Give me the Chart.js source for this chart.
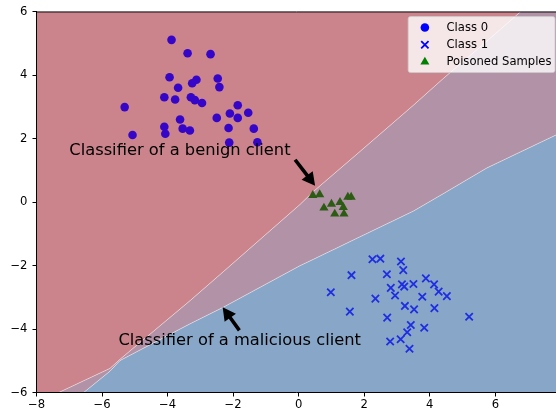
<!DOCTYPE html>
<html>
<head>
<meta charset="utf-8">
<script src="https://cdn.jsdelivr.net/npm/chart.js@4/dist/chart.umd.min.js"></script>
<style>
  html, body { margin: 0; padding: 0; background: #fff; overflow: hidden; }
  #chart { display: block; }
</style>
</head>
<body>
<canvas id="chart" width="556" height="412" style="width:556px;height:412px"></canvas>
<script>
// ---- data ----
const class0X = [-3.88, -3.39, -2.69, -3.94, -2.47, -3.12, -3.25, -2.42, -3.68, -4.10,
                 -3.77, -3.29, -3.17, -2.95, -5.31, -1.86, -2.10, -1.54, -1.86, -2.50,
                 -3.62, -4.10, -3.54, -3.32, -2.14, -1.37, -4.07, -5.07, -2.12, -1.26];
const class0Y = [5.12, 4.70, 4.67, 3.94, 3.90, 3.86, 3.75, 3.63, 3.61, 3.31,
                 3.24, 3.31, 3.22, 3.13, 3.00, 3.06, 2.80, 2.82, 2.66, 2.66,
                 2.61, 2.38, 2.32, 2.26, 2.34, 2.32, 2.16, 2.12, 1.88, 1.89];

const class1X = [2.25, 2.49, 3.12, 3.19, 1.61, 2.69, 3.88, 4.13, 3.50, 3.15,
                 3.22, 2.81, 4.27, 0.98, 2.94, 3.77, 4.52, 2.34, 3.24, 3.52,
                 4.14, 1.56, 2.70, 5.20, 3.42, 3.83, 3.31, 3.11, 2.79, 3.38];
const class1Y = [-1.80, -1.78, -1.87, -2.14, -2.30, -2.27, -2.40, -2.59, -2.58, -2.59,
                 -2.66, -2.70, -2.82, -2.84, -2.94, -2.98, -2.96, -3.04, -3.27, -3.38,
                 -3.34, -3.45, -3.64, -3.61, -3.87, -3.96, -4.10, -4.32, -4.39, -4.62];

const poisonedX = [0.43, 0.64, 0.77, 1.00, 1.26, 1.50, 1.60, 1.10, 1.36, 1.38];
const poisonedY = [0.22, 0.24, -0.18, -0.06, 0.00, 0.16, 0.16, -0.37, -0.16, -0.37];

// decision boundaries of the two classifiers, sampled at shared x positions
const boundaryX  = [-8, -7.32, -6.56, -5.76, -5.45, -3.31, -2.30, 0.04, 0.45, 1.87, 3.50, 4.41, 5.74, 6.75, 7.85];
const benignY    = [-6.33, -6.00, -5.63, -5.24, -4.95, -3.10, -2.19, -0.07, 0.34, 1.60, 3.06, 3.90, 5.08, 5.99, 6.99];
const maliciousY = [-7.38, -6.73, -6.00, -5.33, -4.99, -3.83, -3.31, -2.00, -1.80, -1.09, -0.28, 0.27, 1.08, 1.58, 2.12];

const xRange = [-8, 7.85];
const yRange = [-6, 6];
const xTicks = [-8, -6, -4, -2, 0, 2, 4, 6];
const yTicks = [-6, -4, -2, 0, 2, 4, 6];

const annotationText  = ['Classifier of a benign client', 'Classifier of a malicious client'];
const annotationTextX = [-7.0, -5.5];
const annotationTextY = [1.5, -4.5];
const arrowTailX = [-0.11, -1.81];
const arrowTailY = [1.34, -4.04];
const arrowTipX  = [0.50, -2.32];
const arrowTipY  = [0.52, -3.31];

// ---- styling ----
const FONT = 'DejaVu Sans';
const TICK_SIZE = 11.6;
const NOTE_SIZE = 16.3;
const RED = '#cb838c';
const PURPLE = '#b192a6';
const BLUE = '#88a7c8';
const EDGE = 'rgba(255,255,255,0.45)';

const pts = (xs, ys) => xs.map((x, i) => ({ x, y: ys[i] }));

const legendItems = [
  { text: 'Class 0', style: 'circle', color: '#0000ff' },
  { text: 'Class 1', style: 'crossRot', color: '#0000ff' },
  { text: 'Poisoned Samples', style: 'triangle', color: '#008000' }
];

const tickFmt = list => v => list.includes(v) ? String(v).replace('-', '\u2212') : '';

// frame, arrows, annotation texts and the in-plot legend
const overlayPlugin = {
  id: 'overlay',
  afterDatasetsDraw(chart) {
    const { ctx, chartArea: a, scales } = chart;
    const sx = scales.x, sy = scales.y;
    ctx.save();
    ctx.fillStyle = '#000';
    ctx.font = `${NOTE_SIZE}px "${FONT}"`;
    ctx.textAlign = 'left';
    ctx.textBaseline = 'alphabetic';
    annotationText.forEach((t, i) => {
      ctx.fillText(t, sx.getPixelForValue(annotationTextX[i]), sy.getPixelForValue(annotationTextY[i]));
      const x0 = sx.getPixelForValue(arrowTailX[i]), y0 = sy.getPixelForValue(arrowTailY[i]);
      const x1 = sx.getPixelForValue(arrowTipX[i]),  y1 = sy.getPixelForValue(arrowTipY[i]);
      const dx = x1 - x0, dy = y1 - y0, L = Math.hypot(dx, dy);
      const ux = dx / L, uy = dy / L, nx = -uy, ny = ux;
      const hl = 13, hw = 7, sw = 1.8;
      const bx = x1 - ux * hl, by = y1 - uy * hl;
      ctx.beginPath();
      ctx.moveTo(x0 + nx * sw, y0 + ny * sw);
      ctx.lineTo(bx + nx * sw, by + ny * sw);
      ctx.lineTo(bx + nx * hw, by + ny * hw);
      ctx.lineTo(x1, y1);
      ctx.lineTo(bx - nx * hw, by - ny * hw);
      ctx.lineTo(bx - nx * sw, by - ny * sw);
      ctx.lineTo(x0 - nx * sw, y0 - ny * sw);
      ctx.closePath();
      ctx.fill();
    });
    ctx.strokeStyle = '#000';
    ctx.lineWidth = 1;
    ctx.beginPath();
    ctx.moveTo(a.left, a.bottom);
    ctx.lineTo(a.left, a.top);
    ctx.lineTo(a.right + 1, a.top);
    ctx.moveTo(a.left, a.bottom);
    ctx.lineTo(a.right + 1, a.bottom);
    ctx.stroke();
    ctx.restore();
  },
  afterDraw(chart) {
    const { ctx, chartArea: a } = chart;
    const F = TICK_SIZE;
    ctx.save();
    ctx.font = `${F}px "${FONT}"`;
    const textW = Math.max(...legendItems.map(it => ctx.measureText(it.text).width));
    const w = 0.4 * F + 2 * F + 0.8 * F + textW + 0.4 * F;
    const h = 56;
    const right = a.right - 1;
    const left = right - w;
    const top = a.top + 4.6;
    ctx.beginPath();
    ctx.roundRect(left, top, w, h, 2.3);
    ctx.fillStyle = 'rgba(255,255,255,0.8)';
    ctx.fill();
    ctx.strokeStyle = 'rgba(204,204,204,0.8)';
    ctx.lineWidth = 1;
    ctx.stroke();
    legendItems.forEach((it, i) => {
      const cy = top + 11 + i * 17.2;
      const mx = left + 16.7;
      const opts = {
        pointStyle: it.style, radius: it.style === 'circle' ? 4.3 : 5.2,
        borderWidth: it.style === 'crossRot' ? 1.8 : 0, rotation: 0
      };
      ctx.fillStyle = it.color;
      ctx.strokeStyle = it.color;
      ctx.lineWidth = opts.borderWidth;
      Chart.helpers.drawPoint(ctx, opts, mx, cy);
      ctx.fillStyle = '#000';
      ctx.textAlign = 'left';
      ctx.textBaseline = 'middle';
      ctx.fillText(it.text, left + 38.3, cy);
    });
    ctx.restore();
  }
};

new Chart(document.getElementById('chart'), {
  type: 'scatter',
  data: {
    datasets: [
      { label: 'Class 0', data: pts(class0X, class0Y), pointStyle: 'circle', pointRadius: 4.3,
        backgroundColor: '#3606c8', borderWidth: 0, order: 1 },
      { label: 'Class 1', data: pts(class1X, class1Y), pointStyle: 'crossRot', pointRadius: 5.2,
        borderColor: '#1e2ee0', backgroundColor: '#1e2ee0', pointBorderWidth: 1.8, order: 1 },
      { label: 'Poisoned Samples', data: pts(poisonedX, poisonedY), pointStyle: 'triangle', pointRadius: 5.3,
        backgroundColor: '#2c5c14', borderWidth: 0, order: 1 },
      // benign classifier: class 0 side (above its boundary)
      { type: 'line', data: pts(boundaryX, benignY), fill: 'end', backgroundColor: RED,
        borderColor: EDGE, borderWidth: 1, pointRadius: 0, tension: 0, order: 5 },
      // disagreement band between the two boundaries
      { type: 'line', data: pts(boundaryX, maliciousY), fill: 3, backgroundColor: PURPLE,
        borderColor: EDGE, borderWidth: 1, pointRadius: 0, tension: 0, order: 5 },
      // malicious classifier: class 1 side (below its boundary)
      { type: 'line', data: pts(boundaryX, maliciousY), fill: 'start', backgroundColor: BLUE,
        borderColor: 'rgba(0,0,0,0)', borderWidth: 0, pointRadius: 0, tension: 0, order: 6 }
    ]
  },
  options: {
    responsive: false,
    animation: false,
    events: [],
    devicePixelRatio: 1,
    layout: { autoPadding: false, padding: { top: 9.5, right: 0, left: 0, bottom: 0 } },
    plugins: { legend: { display: false }, tooltip: { enabled: false } },
    scales: {
      x: {
        type: 'linear', min: xRange[0], max: xRange[1],
        afterBuildTicks: s => { s.ticks = xTicks.map(v => ({ value: v })); },
        afterFit: s => { s.height = 19.5; },
        grid: { display: true, drawOnChartArea: false, drawTicks: true, tickLength: 4, tickColor: '#000', tickWidth: 1 },
        border: { display: false },
        ticks: { stepSize: 2, includeBounds: false, color: '#000', font: { family: FONT, size: TICK_SIZE },
                 padding: 2, callback: tickFmt(xTicks), maxRotation: 0, autoSkip: false }
      },
      y: {
        type: 'linear', min: yRange[0], max: yRange[1],
        afterBuildTicks: s => { s.ticks = yTicks.map(v => ({ value: v })); },
        afterFit: s => { s.width = 36.5; },
        grid: { display: true, drawOnChartArea: false, drawTicks: true, tickLength: 4, tickColor: '#000', tickWidth: 1 },
        border: { display: false },
        ticks: { stepSize: 2, color: '#000', font: { family: FONT, size: TICK_SIZE },
                 padding: 5, callback: tickFmt(yTicks), autoSkip: false }
      }
    }
  },
  plugins: [overlayPlugin]
});
</script>
</body>
</html>
